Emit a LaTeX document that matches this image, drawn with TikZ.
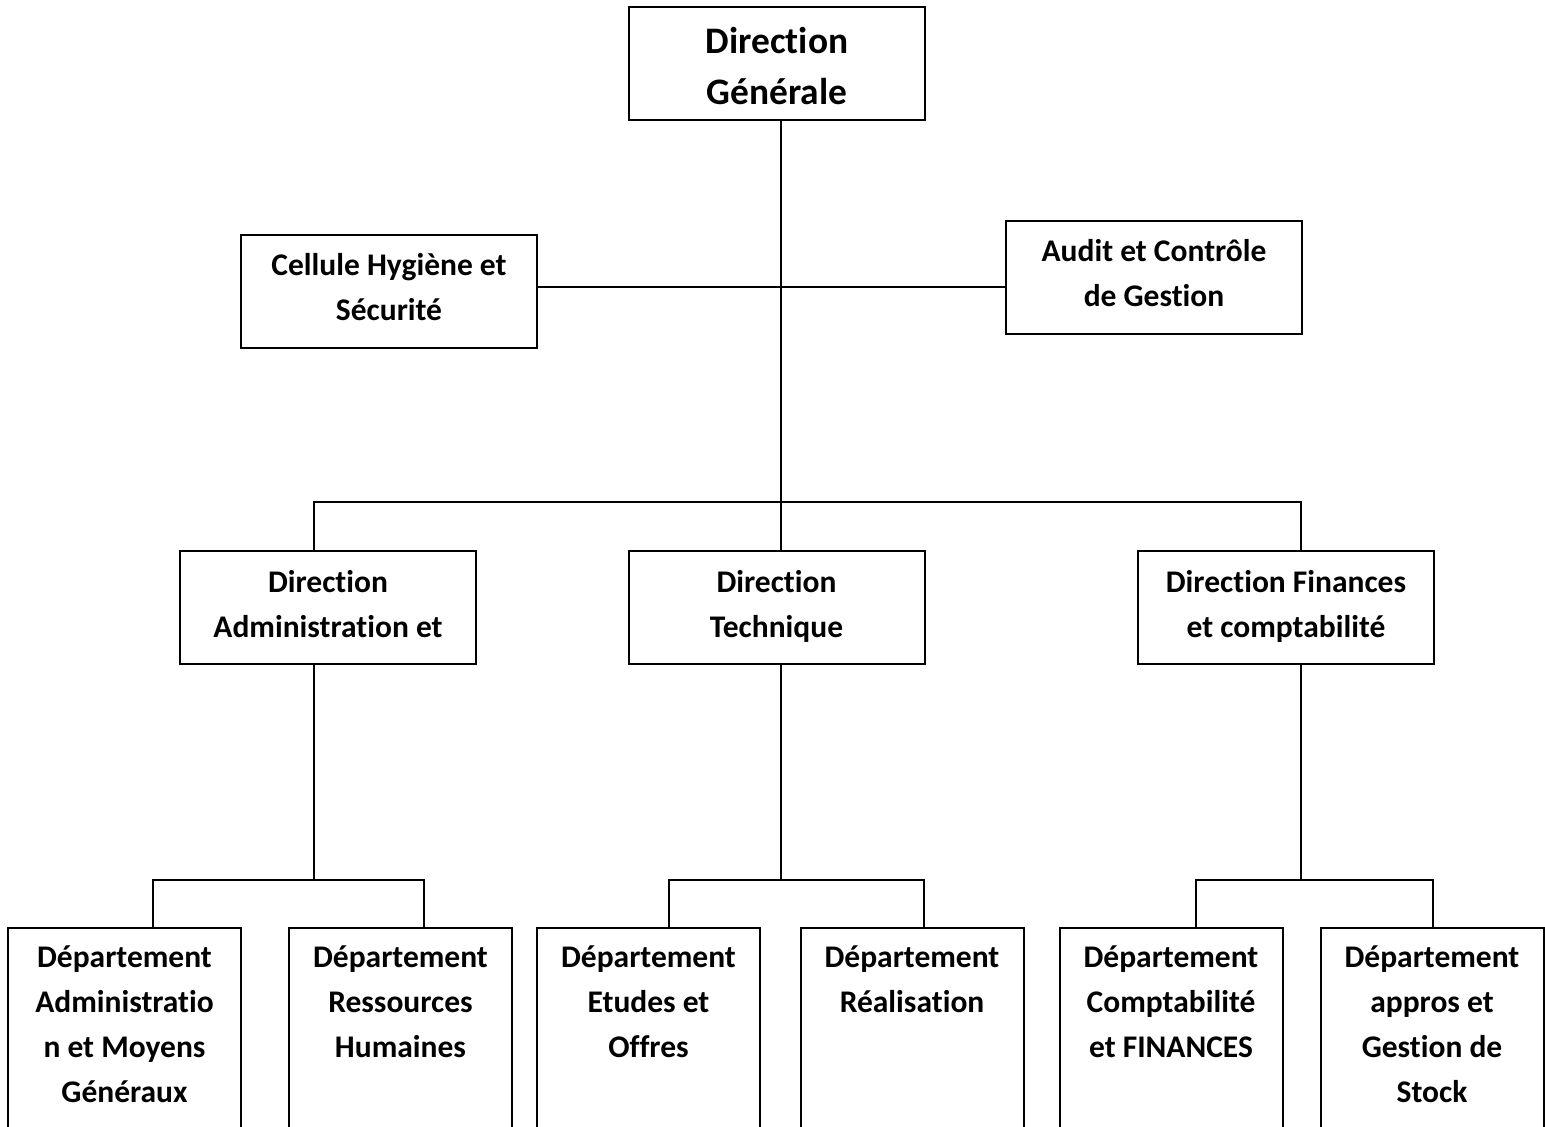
\documentclass[tikz,border=0pt]{standalone}
\usepackage{fontspec}
\setmainfont{Carlito}[Ligatures=NoCommon]
\usepackage{tikz}
\tikzset{
  box/.style={draw, line width=1pt, align=flush center, inner sep=4pt,
    text width=140pt, minimum height=56.5pt, text height=12pt, text depth=27.5pt,
    font=\bfseries\fontsize{15.75}{22.5}\selectfont},
  dept/.style={draw, line width=1pt, align=flush center, anchor=north, inner sep=4pt,
    text width=103.5pt, text height=15.5pt, text depth=130pt,
    font=\bfseries\fontsize{15.75}{22.5}\selectfont},
  link/.style={line width=1pt}
}

\begin{document}
\begin{tikzpicture}[x=0.5pt, y=-0.5pt]
\clip (0,0) rectangle (1545,1127);
\node[box, text height=14pt, text depth=23.5pt, font=\bfseries\fontsize{18.7}{25.5}\selectfont] (dg) at (777,63.5) {Direction\\Générale};
\node[box] (chs) at (389,291.5) {Cellule Hygiène et\\Sécurité};
\node[box] (acg) at (1154,277.5) {Audit et Contrôle\\de Gestion};
\node[box] (dat) at (328,607.5) {Direction\\Administration et};
\node[box] (dtc) at (776.5,607.5) {Direction\\Technique};
\node[box] (dfc) at (1286,607.5) {Direction Finances\\et comptabilité};

\node[dept, text width=108.5pt] (dam) at (124.5,927) {Département\\Administratio\\n et Moyens\\Généraux};
\node[dept] (drh) at (400.5,927) {Département\\Ressources\\Humaines};
\node[dept] (deo) at (648.5,927) {Département\\Etudes et\\Offres};
\node[dept] (drl) at (912,927) {Département\\Réalisation};
\node[dept] (dcf) at (1171,927) {Département\\Comptabilité\\et FINANCES};
\node[dept] (das) at (1432,927) {Département\\appros et\\Gestion de\\Stock};

\coordinate (hub) at (781,502);
\coordinate (side) at (781,287);
\coordinate (lowa) at (314,880);
\coordinate (lowt) at (781,880);
\coordinate (lowf) at (1301,880);

\draw[link] (dg.south -| hub) -- (dtc.north -| hub);
\draw[link] (chs.east |- side) -- (acg.west |- side);
\draw[link] (dat.north -| lowa) |- (hub) -| (dfc.north -| lowf);

\draw[link] (dat.south -| lowa) -- (lowa);
\draw[link] (dam.north -| 153,0) |- (lowa) -| (drh.north -| 424,0);
\draw[link] (dtc.south -| lowt) -- (lowt);
\draw[link] (deo.north -| 669,0) |- (lowt) -| (drl.north -| 924,0);
\draw[link] (dfc.south -| lowf) -- (lowf);
\draw[link] (dcf.north -| 1196,0) |- (lowf) -| (das.north -| 1433,0);
\end{tikzpicture}
\end{document}
